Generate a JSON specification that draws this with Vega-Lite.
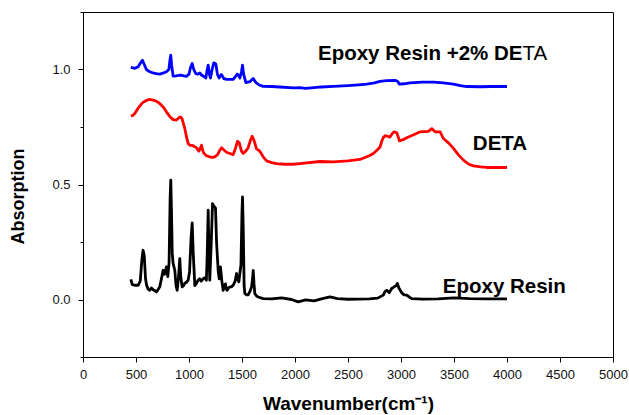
{
  "$schema": "https://vega.github.io/schema/vega-lite/v6.json",
  "width": 530,
  "height": 345,
  "autosize": "none",
  "padding": {"left": 83, "top": 12, "right": 16, "bottom": 58},
  "background": "white",
  "config": {
    "view": {"stroke": "black", "strokeWidth": 1},
    "font": "Liberation Sans",
    "axis": {"grid": false, "domainColor": "black", "tickColor": "black", "labelColor": "#111", "labelFont": "Liberation Sans", "titleFont": "Liberation Sans", "titleColor": "black"}
  },
  "datasets": {
    "curves": [
      {"series": "Epoxy Resin", "wavenumber": 451, "absorption": 0.088},
      {"series": "Epoxy Resin", "wavenumber": 465, "absorption": 0.065},
      {"series": "Epoxy Resin", "wavenumber": 488, "absorption": 0.062},
      {"series": "Epoxy Resin", "wavenumber": 520, "absorption": 0.062},
      {"series": "Epoxy Resin", "wavenumber": 540, "absorption": 0.08},
      {"series": "Epoxy Resin", "wavenumber": 555, "absorption": 0.17},
      {"series": "Epoxy Resin", "wavenumber": 567, "absorption": 0.214},
      {"series": "Epoxy Resin", "wavenumber": 578, "absorption": 0.19},
      {"series": "Epoxy Resin", "wavenumber": 590, "absorption": 0.09},
      {"series": "Epoxy Resin", "wavenumber": 600, "absorption": 0.062},
      {"series": "Epoxy Resin", "wavenumber": 615, "absorption": 0.045},
      {"series": "Epoxy Resin", "wavenumber": 630, "absorption": 0.04},
      {"series": "Epoxy Resin", "wavenumber": 645, "absorption": 0.05},
      {"series": "Epoxy Resin", "wavenumber": 661, "absorption": 0.043},
      {"series": "Epoxy Resin", "wavenumber": 677, "absorption": 0.038},
      {"series": "Epoxy Resin", "wavenumber": 693, "absorption": 0.033},
      {"series": "Epoxy Resin", "wavenumber": 710, "absorption": 0.045},
      {"series": "Epoxy Resin", "wavenumber": 724, "absorption": 0.055},
      {"series": "Epoxy Resin", "wavenumber": 740, "absorption": 0.09},
      {"series": "Epoxy Resin", "wavenumber": 756, "absorption": 0.127},
      {"series": "Epoxy Resin", "wavenumber": 771, "absorption": 0.11},
      {"series": "Epoxy Resin", "wavenumber": 787, "absorption": 0.142},
      {"series": "Epoxy Resin", "wavenumber": 800, "absorption": 0.1},
      {"series": "Epoxy Resin", "wavenumber": 812, "absorption": 0.16},
      {"series": "Epoxy Resin", "wavenumber": 822, "absorption": 0.44},
      {"series": "Epoxy Resin", "wavenumber": 828, "absorption": 0.519},
      {"series": "Epoxy Resin", "wavenumber": 834, "absorption": 0.4},
      {"series": "Epoxy Resin", "wavenumber": 842, "absorption": 0.2},
      {"series": "Epoxy Resin", "wavenumber": 850, "absorption": 0.157},
      {"series": "Epoxy Resin", "wavenumber": 866, "absorption": 0.127},
      {"series": "Epoxy Resin", "wavenumber": 878, "absorption": 0.06},
      {"series": "Epoxy Resin", "wavenumber": 888, "absorption": 0.04},
      {"series": "Epoxy Resin", "wavenumber": 900, "absorption": 0.09},
      {"series": "Epoxy Resin", "wavenumber": 913, "absorption": 0.178},
      {"series": "Epoxy Resin", "wavenumber": 922, "absorption": 0.1},
      {"series": "Epoxy Resin", "wavenumber": 935, "absorption": 0.055},
      {"series": "Epoxy Resin", "wavenumber": 948, "absorption": 0.06},
      {"series": "Epoxy Resin", "wavenumber": 960, "absorption": 0.07},
      {"series": "Epoxy Resin", "wavenumber": 976, "absorption": 0.075},
      {"series": "Epoxy Resin", "wavenumber": 992, "absorption": 0.084},
      {"series": "Epoxy Resin", "wavenumber": 1005, "absorption": 0.12},
      {"series": "Epoxy Resin", "wavenumber": 1020, "absorption": 0.27},
      {"series": "Epoxy Resin", "wavenumber": 1030, "absorption": 0.333},
      {"series": "Epoxy Resin", "wavenumber": 1040, "absorption": 0.2},
      {"series": "Epoxy Resin", "wavenumber": 1055, "absorption": 0.06},
      {"series": "Epoxy Resin", "wavenumber": 1070, "absorption": 0.07},
      {"series": "Epoxy Resin", "wavenumber": 1086, "absorption": 0.084},
      {"series": "Epoxy Resin", "wavenumber": 1100, "absorption": 0.09},
      {"series": "Epoxy Resin", "wavenumber": 1115, "absorption": 0.08},
      {"series": "Epoxy Resin", "wavenumber": 1133, "absorption": 0.09},
      {"series": "Epoxy Resin", "wavenumber": 1150, "absorption": 0.095},
      {"series": "Epoxy Resin", "wavenumber": 1164, "absorption": 0.084},
      {"series": "Epoxy Resin", "wavenumber": 1172, "absorption": 0.2},
      {"series": "Epoxy Resin", "wavenumber": 1181, "absorption": 0.388},
      {"series": "Epoxy Resin", "wavenumber": 1188, "absorption": 0.2},
      {"series": "Epoxy Resin", "wavenumber": 1196, "absorption": 0.084},
      {"series": "Epoxy Resin", "wavenumber": 1210, "absorption": 0.25},
      {"series": "Epoxy Resin", "wavenumber": 1222, "absorption": 0.417},
      {"series": "Epoxy Resin", "wavenumber": 1235, "absorption": 0.405},
      {"series": "Epoxy Resin", "wavenumber": 1250, "absorption": 0.398},
      {"series": "Epoxy Resin", "wavenumber": 1260, "absorption": 0.25},
      {"series": "Epoxy Resin", "wavenumber": 1275, "absorption": 0.127},
      {"series": "Epoxy Resin", "wavenumber": 1285, "absorption": 0.09},
      {"series": "Epoxy Resin", "wavenumber": 1297, "absorption": 0.142},
      {"series": "Epoxy Resin", "wavenumber": 1310, "absorption": 0.08},
      {"series": "Epoxy Resin", "wavenumber": 1322, "absorption": 0.04},
      {"series": "Epoxy Resin", "wavenumber": 1335, "absorption": 0.06},
      {"series": "Epoxy Resin", "wavenumber": 1344, "absorption": 0.068},
      {"series": "Epoxy Resin", "wavenumber": 1352, "absorption": 0.045},
      {"series": "Epoxy Resin", "wavenumber": 1360, "absorption": 0.04},
      {"series": "Epoxy Resin", "wavenumber": 1372, "absorption": 0.05},
      {"series": "Epoxy Resin", "wavenumber": 1386, "absorption": 0.055},
      {"series": "Epoxy Resin", "wavenumber": 1400, "absorption": 0.055},
      {"series": "Epoxy Resin", "wavenumber": 1417, "absorption": 0.062},
      {"series": "Epoxy Resin", "wavenumber": 1435, "absorption": 0.08},
      {"series": "Epoxy Resin", "wavenumber": 1449, "absorption": 0.113},
      {"series": "Epoxy Resin", "wavenumber": 1458, "absorption": 0.09},
      {"series": "Epoxy Resin", "wavenumber": 1470, "absorption": 0.077},
      {"series": "Epoxy Resin", "wavenumber": 1490, "absorption": 0.15},
      {"series": "Epoxy Resin", "wavenumber": 1500, "absorption": 0.38},
      {"series": "Epoxy Resin", "wavenumber": 1505, "absorption": 0.446},
      {"series": "Epoxy Resin", "wavenumber": 1512, "absorption": 0.3},
      {"series": "Epoxy Resin", "wavenumber": 1520, "absorption": 0.06},
      {"series": "Epoxy Resin", "wavenumber": 1527, "absorption": 0.026},
      {"series": "Epoxy Resin", "wavenumber": 1545, "absorption": 0.02},
      {"series": "Epoxy Resin", "wavenumber": 1558, "absorption": 0.02},
      {"series": "Epoxy Resin", "wavenumber": 1575, "absorption": 0.035},
      {"series": "Epoxy Resin", "wavenumber": 1590, "absorption": 0.055},
      {"series": "Epoxy Resin", "wavenumber": 1600, "absorption": 0.09},
      {"series": "Epoxy Resin", "wavenumber": 1606, "absorption": 0.127},
      {"series": "Epoxy Resin", "wavenumber": 1613, "absorption": 0.07},
      {"series": "Epoxy Resin", "wavenumber": 1621, "absorption": 0.026},
      {"series": "Epoxy Resin", "wavenumber": 1637, "absorption": 0.015},
      {"series": "Epoxy Resin", "wavenumber": 1653, "absorption": 0.011},
      {"series": "Epoxy Resin", "wavenumber": 1700, "absorption": 0.004},
      {"series": "Epoxy Resin", "wavenumber": 1780, "absorption": 0.003},
      {"series": "Epoxy Resin", "wavenumber": 1873, "absorption": 0.007},
      {"series": "Epoxy Resin", "wavenumber": 1967, "absorption": 0.0},
      {"series": "Epoxy Resin", "wavenumber": 2031, "absorption": -0.01},
      {"series": "Epoxy Resin", "wavenumber": 2100, "absorption": -0.002},
      {"series": "Epoxy Resin", "wavenumber": 2180, "absorption": -0.006},
      {"series": "Epoxy Resin", "wavenumber": 2250, "absorption": 0.003},
      {"series": "Epoxy Resin", "wavenumber": 2330, "absorption": 0.011},
      {"series": "Epoxy Resin", "wavenumber": 2400, "absorption": 0.004},
      {"series": "Epoxy Resin", "wavenumber": 2500, "absorption": 0.001},
      {"series": "Epoxy Resin", "wavenumber": 2600, "absorption": 0.002},
      {"series": "Epoxy Resin", "wavenumber": 2700, "absorption": 0.003},
      {"series": "Epoxy Resin", "wavenumber": 2780, "absorption": 0.006},
      {"series": "Epoxy Resin", "wavenumber": 2833, "absorption": 0.019},
      {"series": "Epoxy Resin", "wavenumber": 2850, "absorption": 0.035},
      {"series": "Epoxy Resin", "wavenumber": 2866, "absorption": 0.04},
      {"series": "Epoxy Resin", "wavenumber": 2890, "absorption": 0.03},
      {"series": "Epoxy Resin", "wavenumber": 2912, "absorption": 0.048},
      {"series": "Epoxy Resin", "wavenumber": 2935, "absorption": 0.055},
      {"series": "Epoxy Resin", "wavenumber": 2955, "absorption": 0.06},
      {"series": "Epoxy Resin", "wavenumber": 2966, "absorption": 0.07},
      {"series": "Epoxy Resin", "wavenumber": 2980, "absorption": 0.05},
      {"series": "Epoxy Resin", "wavenumber": 3007, "absorption": 0.029},
      {"series": "Epoxy Resin", "wavenumber": 3030, "absorption": 0.02},
      {"series": "Epoxy Resin", "wavenumber": 3054, "absorption": 0.019},
      {"series": "Epoxy Resin", "wavenumber": 3080, "absorption": 0.01},
      {"series": "Epoxy Resin", "wavenumber": 3101, "absorption": 0.004},
      {"series": "Epoxy Resin", "wavenumber": 3200, "absorption": 0.002},
      {"series": "Epoxy Resin", "wavenumber": 3350, "absorption": 0.003},
      {"series": "Epoxy Resin", "wavenumber": 3500, "absorption": 0.007},
      {"series": "Epoxy Resin", "wavenumber": 3650, "absorption": 0.004},
      {"series": "Epoxy Resin", "wavenumber": 3800, "absorption": 0.003},
      {"series": "Epoxy Resin", "wavenumber": 4000, "absorption": 0.003},

      {"series": "DETA", "wavenumber": 451, "absorption": 0.798},
      {"series": "DETA", "wavenumber": 470, "absorption": 0.8},
      {"series": "DETA", "wavenumber": 490, "absorption": 0.81},
      {"series": "DETA", "wavenumber": 520, "absorption": 0.832},
      {"series": "DETA", "wavenumber": 560, "absorption": 0.855},
      {"series": "DETA", "wavenumber": 600, "absorption": 0.866},
      {"series": "DETA", "wavenumber": 630, "absorption": 0.87},
      {"series": "DETA", "wavenumber": 670, "absorption": 0.866},
      {"series": "DETA", "wavenumber": 700, "absorption": 0.86},
      {"series": "DETA", "wavenumber": 724, "absorption": 0.852},
      {"series": "DETA", "wavenumber": 760, "absorption": 0.835},
      {"series": "DETA", "wavenumber": 787, "absorption": 0.816},
      {"series": "DETA", "wavenumber": 820, "absorption": 0.795},
      {"series": "DETA", "wavenumber": 850, "absorption": 0.782},
      {"series": "DETA", "wavenumber": 882, "absorption": 0.78},
      {"series": "DETA", "wavenumber": 905, "absorption": 0.79},
      {"series": "DETA", "wavenumber": 920, "absorption": 0.794},
      {"series": "DETA", "wavenumber": 935, "absorption": 0.785},
      {"series": "DETA", "wavenumber": 950, "absorption": 0.76},
      {"series": "DETA", "wavenumber": 960, "absorption": 0.745},
      {"series": "DETA", "wavenumber": 975, "absorption": 0.71},
      {"series": "DETA", "wavenumber": 992, "absorption": 0.678},
      {"series": "DETA", "wavenumber": 1010, "absorption": 0.67},
      {"series": "DETA", "wavenumber": 1033, "absorption": 0.67},
      {"series": "DETA", "wavenumber": 1050, "absorption": 0.665},
      {"series": "DETA", "wavenumber": 1071, "absorption": 0.66},
      {"series": "DETA", "wavenumber": 1093, "absorption": 0.645},
      {"series": "DETA", "wavenumber": 1105, "absorption": 0.655},
      {"series": "DETA", "wavenumber": 1118, "absorption": 0.671},
      {"series": "DETA", "wavenumber": 1128, "absorption": 0.65},
      {"series": "DETA", "wavenumber": 1140, "absorption": 0.636},
      {"series": "DETA", "wavenumber": 1165, "absorption": 0.625},
      {"series": "DETA", "wavenumber": 1196, "absorption": 0.62},
      {"series": "DETA", "wavenumber": 1220, "absorption": 0.618},
      {"series": "DETA", "wavenumber": 1243, "absorption": 0.62},
      {"series": "DETA", "wavenumber": 1270, "absorption": 0.63},
      {"series": "DETA", "wavenumber": 1290, "absorption": 0.648},
      {"series": "DETA", "wavenumber": 1307, "absorption": 0.66},
      {"series": "DETA", "wavenumber": 1330, "absorption": 0.65},
      {"series": "DETA", "wavenumber": 1354, "absorption": 0.64},
      {"series": "DETA", "wavenumber": 1385, "absorption": 0.635},
      {"series": "DETA", "wavenumber": 1417, "absorption": 0.63},
      {"series": "DETA", "wavenumber": 1440, "absorption": 0.66},
      {"series": "DETA", "wavenumber": 1458, "absorption": 0.688},
      {"series": "DETA", "wavenumber": 1475, "absorption": 0.68},
      {"series": "DETA", "wavenumber": 1495, "absorption": 0.645},
      {"series": "DETA", "wavenumber": 1511, "absorption": 0.635},
      {"series": "DETA", "wavenumber": 1535, "absorption": 0.645},
      {"series": "DETA", "wavenumber": 1558, "absorption": 0.66},
      {"series": "DETA", "wavenumber": 1578, "absorption": 0.69},
      {"series": "DETA", "wavenumber": 1596, "absorption": 0.71},
      {"series": "DETA", "wavenumber": 1615, "absorption": 0.69},
      {"series": "DETA", "wavenumber": 1637, "absorption": 0.655},
      {"series": "DETA", "wavenumber": 1660, "absorption": 0.648},
      {"series": "DETA", "wavenumber": 1675, "absorption": 0.64},
      {"series": "DETA", "wavenumber": 1700, "absorption": 0.62},
      {"series": "DETA", "wavenumber": 1732, "absorption": 0.603},
      {"series": "DETA", "wavenumber": 1780, "absorption": 0.595},
      {"series": "DETA", "wavenumber": 1826, "absorption": 0.591},
      {"series": "DETA", "wavenumber": 1900, "absorption": 0.588},
      {"series": "DETA", "wavenumber": 1983, "absorption": 0.588},
      {"series": "DETA", "wavenumber": 2046, "absorption": 0.591},
      {"series": "DETA", "wavenumber": 2109, "absorption": 0.594},
      {"series": "DETA", "wavenumber": 2235, "absorption": 0.6},
      {"series": "DETA", "wavenumber": 2361, "absorption": 0.598},
      {"series": "DETA", "wavenumber": 2500, "absorption": 0.603},
      {"series": "DETA", "wavenumber": 2613, "absorption": 0.609},
      {"series": "DETA", "wavenumber": 2700, "absorption": 0.625},
      {"series": "DETA", "wavenumber": 2739, "absorption": 0.635},
      {"series": "DETA", "wavenumber": 2780, "absorption": 0.652},
      {"series": "DETA", "wavenumber": 2802, "absorption": 0.663},
      {"series": "DETA", "wavenumber": 2820, "absorption": 0.69},
      {"series": "DETA", "wavenumber": 2833, "absorption": 0.704},
      {"series": "DETA", "wavenumber": 2850, "absorption": 0.712},
      {"series": "DETA", "wavenumber": 2871, "absorption": 0.71},
      {"series": "DETA", "wavenumber": 2896, "absorption": 0.706},
      {"series": "DETA", "wavenumber": 2915, "absorption": 0.72},
      {"series": "DETA", "wavenumber": 2934, "absorption": 0.729},
      {"series": "DETA", "wavenumber": 2960, "absorption": 0.725},
      {"series": "DETA", "wavenumber": 2975, "absorption": 0.705},
      {"series": "DETA", "wavenumber": 2985, "absorption": 0.69},
      {"series": "DETA", "wavenumber": 3020, "absorption": 0.695},
      {"series": "DETA", "wavenumber": 3054, "absorption": 0.703},
      {"series": "DETA", "wavenumber": 3120, "absorption": 0.716},
      {"series": "DETA", "wavenumber": 3180, "absorption": 0.729},
      {"series": "DETA", "wavenumber": 3258, "absorption": 0.731},
      {"series": "DETA", "wavenumber": 3290, "absorption": 0.743},
      {"series": "DETA", "wavenumber": 3322, "absorption": 0.729},
      {"series": "DETA", "wavenumber": 3369, "absorption": 0.729},
      {"series": "DETA", "wavenumber": 3400, "absorption": 0.7},
      {"series": "DETA", "wavenumber": 3450, "absorption": 0.68},
      {"series": "DETA", "wavenumber": 3495, "absorption": 0.657},
      {"series": "DETA", "wavenumber": 3540, "absorption": 0.63},
      {"series": "DETA", "wavenumber": 3589, "absorption": 0.606},
      {"series": "DETA", "wavenumber": 3640, "absorption": 0.588},
      {"series": "DETA", "wavenumber": 3683, "absorption": 0.581},
      {"series": "DETA", "wavenumber": 3750, "absorption": 0.577},
      {"series": "DETA", "wavenumber": 3810, "absorption": 0.574},
      {"series": "DETA", "wavenumber": 3900, "absorption": 0.574},
      {"series": "DETA", "wavenumber": 4000, "absorption": 0.574},

      {"series": "Epoxy Resin +2% DETA", "wavenumber": 451, "absorption": 1.009},
      {"series": "Epoxy Resin +2% DETA", "wavenumber": 470, "absorption": 1.007},
      {"series": "Epoxy Resin +2% DETA", "wavenumber": 490, "absorption": 1.005},
      {"series": "Epoxy Resin +2% DETA", "wavenumber": 520, "absorption": 1.012},
      {"series": "Epoxy Resin +2% DETA", "wavenumber": 545, "absorption": 1.03},
      {"series": "Epoxy Resin +2% DETA", "wavenumber": 561, "absorption": 1.04},
      {"series": "Epoxy Resin +2% DETA", "wavenumber": 575, "absorption": 1.025},
      {"series": "Epoxy Resin +2% DETA", "wavenumber": 598, "absorption": 1.0},
      {"series": "Epoxy Resin +2% DETA", "wavenumber": 630, "absorption": 0.99},
      {"series": "Epoxy Resin +2% DETA", "wavenumber": 661, "absorption": 0.985},
      {"series": "Epoxy Resin +2% DETA", "wavenumber": 690, "absorption": 0.982},
      {"series": "Epoxy Resin +2% DETA", "wavenumber": 724, "absorption": 0.98},
      {"series": "Epoxy Resin +2% DETA", "wavenumber": 760, "absorption": 0.985},
      {"series": "Epoxy Resin +2% DETA", "wavenumber": 787, "absorption": 0.99},
      {"series": "Epoxy Resin +2% DETA", "wavenumber": 810, "absorption": 1.0},
      {"series": "Epoxy Resin +2% DETA", "wavenumber": 820, "absorption": 1.04},
      {"series": "Epoxy Resin +2% DETA", "wavenumber": 828, "absorption": 1.062},
      {"series": "Epoxy Resin +2% DETA", "wavenumber": 836, "absorption": 1.02},
      {"series": "Epoxy Resin +2% DETA", "wavenumber": 850, "absorption": 0.971},
      {"series": "Epoxy Resin +2% DETA", "wavenumber": 880, "absorption": 0.972},
      {"series": "Epoxy Resin +2% DETA", "wavenumber": 910, "absorption": 0.975},
      {"series": "Epoxy Resin +2% DETA", "wavenumber": 929, "absorption": 0.975},
      {"series": "Epoxy Resin +2% DETA", "wavenumber": 950, "absorption": 0.972},
      {"series": "Epoxy Resin +2% DETA", "wavenumber": 976, "absorption": 0.97},
      {"series": "Epoxy Resin +2% DETA", "wavenumber": 1000, "absorption": 0.98},
      {"series": "Epoxy Resin +2% DETA", "wavenumber": 1015, "absorption": 1.01},
      {"series": "Epoxy Resin +2% DETA", "wavenumber": 1030, "absorption": 1.026},
      {"series": "Epoxy Resin +2% DETA", "wavenumber": 1045, "absorption": 1.0},
      {"series": "Epoxy Resin +2% DETA", "wavenumber": 1064, "absorption": 0.982},
      {"series": "Epoxy Resin +2% DETA", "wavenumber": 1085, "absorption": 0.98},
      {"series": "Epoxy Resin +2% DETA", "wavenumber": 1102, "absorption": 0.985},
      {"series": "Epoxy Resin +2% DETA", "wavenumber": 1120, "absorption": 0.975},
      {"series": "Epoxy Resin +2% DETA", "wavenumber": 1140, "absorption": 0.97},
      {"series": "Epoxy Resin +2% DETA", "wavenumber": 1159, "absorption": 0.963},
      {"series": "Epoxy Resin +2% DETA", "wavenumber": 1172, "absorption": 1.0},
      {"series": "Epoxy Resin +2% DETA", "wavenumber": 1181, "absorption": 1.019},
      {"series": "Epoxy Resin +2% DETA", "wavenumber": 1192, "absorption": 0.98},
      {"series": "Epoxy Resin +2% DETA", "wavenumber": 1203, "absorption": 0.963},
      {"series": "Epoxy Resin +2% DETA", "wavenumber": 1218, "absorption": 1.0},
      {"series": "Epoxy Resin +2% DETA", "wavenumber": 1234, "absorption": 1.029},
      {"series": "Epoxy Resin +2% DETA", "wavenumber": 1253, "absorption": 1.024},
      {"series": "Epoxy Resin +2% DETA", "wavenumber": 1268, "absorption": 0.98},
      {"series": "Epoxy Resin +2% DETA", "wavenumber": 1284, "absorption": 0.963},
      {"series": "Epoxy Resin +2% DETA", "wavenumber": 1306, "absorption": 0.978},
      {"series": "Epoxy Resin +2% DETA", "wavenumber": 1330, "absorption": 0.96},
      {"series": "Epoxy Resin +2% DETA", "wavenumber": 1354, "absorption": 0.957},
      {"series": "Epoxy Resin +2% DETA", "wavenumber": 1385, "absorption": 0.957},
      {"series": "Epoxy Resin +2% DETA", "wavenumber": 1417, "absorption": 0.957},
      {"series": "Epoxy Resin +2% DETA", "wavenumber": 1440, "absorption": 0.97},
      {"series": "Epoxy Resin +2% DETA", "wavenumber": 1455, "absorption": 0.98},
      {"series": "Epoxy Resin +2% DETA", "wavenumber": 1468, "absorption": 0.975},
      {"series": "Epoxy Resin +2% DETA", "wavenumber": 1480, "absorption": 0.963},
      {"series": "Epoxy Resin +2% DETA", "wavenumber": 1495, "absorption": 0.99},
      {"series": "Epoxy Resin +2% DETA", "wavenumber": 1505, "absorption": 1.019},
      {"series": "Epoxy Resin +2% DETA", "wavenumber": 1515, "absorption": 0.98},
      {"series": "Epoxy Resin +2% DETA", "wavenumber": 1537, "absorption": 0.943},
      {"series": "Epoxy Resin +2% DETA", "wavenumber": 1555, "absorption": 0.945},
      {"series": "Epoxy Resin +2% DETA", "wavenumber": 1574, "absorption": 0.947},
      {"series": "Epoxy Resin +2% DETA", "wavenumber": 1592, "absorption": 0.955},
      {"series": "Epoxy Resin +2% DETA", "wavenumber": 1606, "absorption": 0.961},
      {"series": "Epoxy Resin +2% DETA", "wavenumber": 1620, "absorption": 0.95},
      {"series": "Epoxy Resin +2% DETA", "wavenumber": 1637, "absorption": 0.941},
      {"series": "Epoxy Resin +2% DETA", "wavenumber": 1665, "absorption": 0.932},
      {"series": "Epoxy Resin +2% DETA", "wavenumber": 1700, "absorption": 0.927},
      {"series": "Epoxy Resin +2% DETA", "wavenumber": 1780, "absorption": 0.926},
      {"series": "Epoxy Resin +2% DETA", "wavenumber": 1857, "absorption": 0.924},
      {"series": "Epoxy Resin +2% DETA", "wavenumber": 1983, "absorption": 0.92},
      {"series": "Epoxy Resin +2% DETA", "wavenumber": 2046, "absorption": 0.921},
      {"series": "Epoxy Resin +2% DETA", "wavenumber": 2100, "absorption": 0.918},
      {"series": "Epoxy Resin +2% DETA", "wavenumber": 2157, "absorption": 0.92},
      {"series": "Epoxy Resin +2% DETA", "wavenumber": 2250, "absorption": 0.924},
      {"series": "Epoxy Resin +2% DETA", "wavenumber": 2361, "absorption": 0.927},
      {"series": "Epoxy Resin +2% DETA", "wavenumber": 2500, "absorption": 0.93},
      {"series": "Epoxy Resin +2% DETA", "wavenumber": 2600, "absorption": 0.933},
      {"series": "Epoxy Resin +2% DETA", "wavenumber": 2676, "absorption": 0.936},
      {"series": "Epoxy Resin +2% DETA", "wavenumber": 2750, "absorption": 0.942},
      {"series": "Epoxy Resin +2% DETA", "wavenumber": 2802, "absorption": 0.948},
      {"series": "Epoxy Resin +2% DETA", "wavenumber": 2865, "absorption": 0.952},
      {"series": "Epoxy Resin +2% DETA", "wavenumber": 2944, "absorption": 0.953},
      {"series": "Epoxy Resin +2% DETA", "wavenumber": 2970, "absorption": 0.948},
      {"series": "Epoxy Resin +2% DETA", "wavenumber": 2985, "absorption": 0.936},
      {"series": "Epoxy Resin +2% DETA", "wavenumber": 3030, "absorption": 0.938},
      {"series": "Epoxy Resin +2% DETA", "wavenumber": 3085, "absorption": 0.942},
      {"series": "Epoxy Resin +2% DETA", "wavenumber": 3200, "absorption": 0.945},
      {"series": "Epoxy Resin +2% DETA", "wavenumber": 3306, "absorption": 0.945},
      {"series": "Epoxy Resin +2% DETA", "wavenumber": 3400, "absorption": 0.942},
      {"series": "Epoxy Resin +2% DETA", "wavenumber": 3495, "absorption": 0.936},
      {"series": "Epoxy Resin +2% DETA", "wavenumber": 3560, "absorption": 0.93},
      {"series": "Epoxy Resin +2% DETA", "wavenumber": 3620, "absorption": 0.926},
      {"series": "Epoxy Resin +2% DETA", "wavenumber": 3750, "absorption": 0.925},
      {"series": "Epoxy Resin +2% DETA", "wavenumber": 3850, "absorption": 0.926},
      {"series": "Epoxy Resin +2% DETA", "wavenumber": 4000, "absorption": 0.926}
    ],
    "labels": [
      {"kind": "left", "label": "DETA", "wavenumber": 3678, "absorption": 0.649},
      {"kind": "left", "label": "Epoxy Resin", "wavenumber": 3394, "absorption": 0.029},
      {"kind": "right", "label": "Epoxy Resin +2% DE", "wavenumber": 4146, "absorption": 1.04},
      {"kind": "normal", "label": "TA", "wavenumber": 4146, "absorption": 1.04}
    ]
  },
  "layer": [
    {
      "data": {"name": "curves"},
      "mark": {"type": "line", "strokeWidth": 2.8, "strokeJoin": "round"},
      "encoding": {
        "x": {
          "field": "wavenumber", "type": "quantitative",
          "scale": {"domain": [0, 5000], "nice": false, "zero": false},
          "axis": {
            "values": [0, 250, 500, 750, 1000, 1250, 1500, 1750, 2000, 2250, 2500, 2750, 3000, 3250, 3500, 3750, 4000, 4250, 4500, 4750, 5000],
            "format": "d",
            "labelExpr": "datum.value % 500 === 0 ? datum.label : ''",
            "tickSize": {"condition": {"test": "datum.value % 500 === 0", "value": 5}, "value": 3},
            "labelFontSize": 13,
            "labelPadding": 6,
            "labelFlush": false,
            "title": "Wavenumber(cm⁻¹)",
            "titleFontSize": 19,
            "titleFontWeight": "bold",
            "titleBaseline": "alphabetic",
            "titleY": 52
          }
        },
        "y": {
          "field": "absorption", "type": "quantitative",
          "scale": {"domain": [-0.25, 1.25], "nice": false, "zero": false},
          "axis": {
            "values": [-0.25, 0, 0.25, 0.5, 0.75, 1.0, 1.25],
            "format": ".1f",
            "labelExpr": "(datum.value === 0 || datum.value === 0.5 || datum.value === 1) ? datum.label : ''",
            "tickSize": {"condition": {"test": "datum.value === 0 || datum.value === 0.5 || datum.value === 1", "value": 5}, "value": 3},
            "labelFontSize": 13,
            "labelPadding": 8,
            "title": "Absorption",
            "titleFontSize": 18,
            "titleFontWeight": "bold",
            "titleAngle": -90,
            "titleBaseline": "alphabetic",
            "titleAlign": "center",
            "titleX": -60,
            "titleY": 184
          }
        },
        "color": {
          "field": "series", "type": "nominal",
          "scale": {"domain": ["Epoxy Resin", "DETA", "Epoxy Resin +2% DETA"], "range": ["#000000", "#ff0000", "#0000ff"]},
          "legend": null
        }
      }
    },
    {
      "data": {"name": "labels"},
      "transform": [{"filter": "datum.kind === 'left'"}],
      "mark": {"type": "text", "align": "left", "baseline": "alphabetic", "fontSize": 20.5, "fontWeight": "bold", "font": "Liberation Sans", "color": "black"},
      "encoding": {
        "x": {"field": "wavenumber", "type": "quantitative"},
        "y": {"field": "absorption", "type": "quantitative"},
        "text": {"field": "label"}
      }
    },
    {
      "data": {"name": "labels"},
      "transform": [{"filter": "datum.kind === 'right'"}],
      "mark": {"type": "text", "align": "right", "baseline": "alphabetic", "fontSize": 20.5, "fontWeight": "bold", "font": "Liberation Sans", "color": "black"},
      "encoding": {
        "x": {"field": "wavenumber", "type": "quantitative"},
        "y": {"field": "absorption", "type": "quantitative"},
        "text": {"field": "label"}
      }
    },
    {
      "data": {"name": "labels"},
      "transform": [{"filter": "datum.kind === 'normal'"}],
      "mark": {"type": "text", "align": "left", "baseline": "alphabetic", "fontSize": 20.5, "fontWeight": "normal", "font": "Liberation Sans", "color": "black"},
      "encoding": {
        "x": {"field": "wavenumber", "type": "quantitative"},
        "y": {"field": "absorption", "type": "quantitative"},
        "text": {"field": "label"}
      }
    }
  ]
}
